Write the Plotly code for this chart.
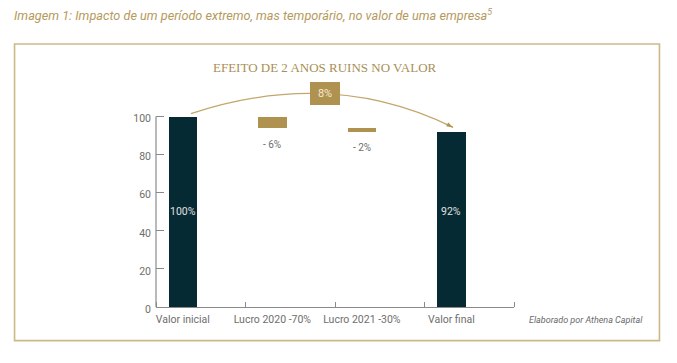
import plotly.graph_objects as go

# ---- data ----
categories = ["Valor inicial", "Lucro 2020 -70%", "Lucro 2021 -30%", "Valor final"]
start_value = 100
deltas = [-6, -2]
delta_labels = ["- 6%", "- 2%"]
total_loss_label = "8%"
y_ticks = [0, 20, 40, 60, 80, 100]

final_value = start_value + sum(deltas)
total_loss = -sum(deltas)

DARK = "#062a33"
GOLD = "#b09250"
AXIS = "#8a8a8a"
TXT = "#6e6e6e"

W, H = 677, 363
L, R, T, B = 155.7, 514.3, 69, 307.3  # plot area edges in px
PW, PH = R - L, B - T


def px(x):
    return (x - L) / PW


def py(y):
    return (B - y) / PH


xpos = [i + 0.3 for i in range(len(categories))]
bw = 0.32

bases = [0]
heights = [start_value]
level = start_value
for d in deltas:
    bases.append(level + d)
    heights.append(-d)
    level += d
bases.append(0)
heights.append(final_value)
colors = [DARK] + [GOLD] * len(deltas) + [DARK]

fig = go.Figure()
fig.add_trace(go.Bar(
    x=xpos, y=heights, base=bases, width=bw,
    marker=dict(color=colors, line=dict(width=0)),
    hoverinfo="skip", showlegend=False,
))

# total loss box
loss_x = 1.89
loss_base = 106
fig.add_trace(go.Bar(
    x=[loss_x], y=[total_loss * 1.5], base=[loss_base], width=0.335,
    marker=dict(color=GOLD, line=dict(width=0)),
    text=[total_loss_label], textposition="inside", insidetextanchor="middle",
    textfont=dict(family="Roboto", size=11, color="#f3ead6"),
    cliponaxis=False, hoverinfo="skip", showlegend=False,
))

# arc connecting initial and final values
x0, y0 = xpos[0] + 0.09, start_value + 1.5
x2, y2 = xpos[-1] + 0.02, final_value + 2.3
cx, cy = 1.96, 126
fig.add_shape(type="path",
              path=f"M {x0},{y0} Q {cx},{cy} {x2},{y2}",
              xref="x", yref="y", line=dict(color="#c2a66a", width=1.3),
              layer="below")
# arrow head
fig.add_trace(go.Scatter(
    x=[x2], y=[y2], mode="markers",
    marker=dict(symbol="arrow", size=7, angle=117, color=GOLD, line=dict(width=0)),
    cliponaxis=False, hoverinfo="skip", showlegend=False,
))

annotations = []
for i, val in [(0, start_value), (len(categories) - 1, final_value)]:
    annotations.append(dict(x=xpos[i], y=50, xref="x", yref="y", text=f"{val}%",
                            showarrow=False,
                            font=dict(family="Roboto", size=10.5, color="#e0e0e0")))
for k, lab in enumerate(delta_labels):
    annotations.append(dict(x=xpos[k + 1], y=bases[k + 1], xref="x", yref="y",
                            text=lab, showarrow=False, yshift=-16,
                            font=dict(family="Roboto", size=10, color=TXT)))

annotations.append(dict(x=px(325), y=py(67), xref="paper", yref="paper",
                        text="EFEITO DE 2 ANOS RUINS NO VALOR", showarrow=False,
                        xanchor="center", yanchor="middle",
                        font=dict(family="Liberation Serif", size=13, color="#a88f55")))
annotations.append(dict(x=px(11), y=py(15), xref="paper", yref="paper",
                        text="<i>Imagem 1: Impacto de um período extremo, mas temporário, no valor de uma empresa<sup>5</sup></i>",
                        showarrow=False, xanchor="left", yanchor="middle",
                        font=dict(family="Roboto", size=12.7, color="#b59a5c")))
annotations.append(dict(x=px(646), y=py(320), xref="paper", yref="paper",
                        text="<i>Elaborado por Athena Capital</i>", showarrow=False,
                        xanchor="right", yanchor="middle",
                        font=dict(family="Roboto", size=9, color="#6a6a6a")))

shapes = [
    dict(type="line", xref="paper", yref="y", x0=0, x1=0, y0=0, y1=100,
         line=dict(color=AXIS, width=1.2)),
    dict(type="rect", xref="paper", yref="paper",
         x0=px(14), x1=px(660), y0=py(341), y1=py(44),
         line=dict(color="#cdb887", width=1.6), layer="below"),
]

fig.update_layout(
    width=W, height=H,
    margin=dict(l=L, r=W - R, t=T, b=H - B, pad=0),
    plot_bgcolor="white", paper_bgcolor="white",
    bargap=0, showlegend=False,
    annotations=annotations,
    shapes=list(fig.layout.shapes) + shapes,
    xaxis=dict(range=[0, 4], tickmode="array", tickvals=xpos, ticktext=categories,
               ticks="", showgrid=False, zeroline=False,
               showline=True, linecolor=AXIS, linewidth=1.2,
               tickfont=dict(family="Roboto", size=10.5, color=TXT),
               ticklabelstandoff=2,
               minor=dict(tickmode="array", tickvals=[0, 1, 2, 3, 4],
                          ticks="inside", ticklen=5, tickcolor=AXIS, tickwidth=1.2,
                          showgrid=False),
               fixedrange=True),
    yaxis=dict(range=[0, 125], tickmode="array", tickvals=y_ticks,
               ticks="inside", ticklen=8, tickcolor=AXIS, tickwidth=1.2,
               showgrid=False, zeroline=False, showline=False,
               tickfont=dict(family="Roboto", size=10.5, color=TXT),
               ticklabelstandoff=4, ticklabelshift=2, fixedrange=True),
)

fig.write_html("out.html", config={"displayModeBar": False},
               post_script="document.body.style.margin='0';document.body.style.overflow='hidden';")
